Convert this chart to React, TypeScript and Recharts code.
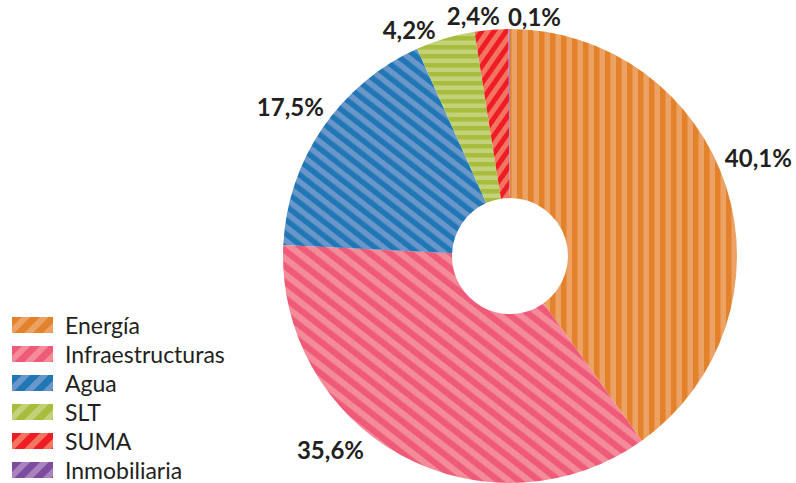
import React from 'react';
import { PieChart, Pie, Cell, Legend } from 'recharts';

const categories = ['Energía', 'Infraestructuras', 'Agua', 'SLT', 'SUMA', 'Inmobiliaria'];
const shares = [40.1, 35.6, 17.5, 4.2, 2.4, 0.1];
const valueLabels = ['40,1%', '35,6%', '17,5%', '4,2%', '2,4%', '0,1%'];

const darkColors = ['#E3822B', '#EF5A78', '#2177B5', '#A7BD3C', '#EE1D25', '#7D4C9E'];
const lightColors = ['#EBA264', '#F48B98', '#6A97CA', '#C3D27A', '#F37560', '#A983C0'];
// stripe geometry per slice: [period, rotation]
const stripePeriod = [11, 12.5, 11, 9, 10, 6];
const stripeRotation = [0, -52, -52, 90, 35, 0];

// label placement tweaks (degrees / px beyond outer radius)
const labelAngleShift = [3.8, -14.2, 0, 7.4, 4, -6];
const labelRadiusExtra = [40, 37, 39, 21, 16, 14];

const data = categories.map((name, i) => ({ name, value: shares[i], label: valueLabels[i] }));

const RAD = Math.PI / 180;

const renderLabel = (props: any) => {
  const { cx, cy, midAngle, outerRadius, index } = props;
  const a = (midAngle + labelAngleShift[index]) * RAD;
  const r = outerRadius + labelRadiusExtra[index];
  const x = cx + r * Math.cos(-a);
  const y = cy + r * Math.sin(-a);
  return (
    <text
      x={x}
      y={y}
      textAnchor="middle"
      dominantBaseline="central"
      fill="#231F20"
      style={{ fontFamily: 'Lato', fontWeight: 700, fontSize: 24 }}
    >
      {valueLabels[index]}
    </text>
  );
};

const renderLegend = () => (
  <div style={{ fontFamily: 'Lato', fontSize: 23, color: '#231F20' }}>
    {categories.map((name, i) => (
      <div key={name} style={{ display: 'flex', alignItems: 'center', height: 29 }}>
        <svg width={41} height={16} style={{ display: 'block' }}>
          <rect width={41} height={16} fill={`url(#lg-${i})`} />
        </svg>
        <span style={{ marginLeft: 12, lineHeight: '20px' }}>{name}</span>
      </div>
    ))}
  </div>
);

export default function App() {
  return (
    <div style={{ position: 'absolute', left: 0, top: 0, width: 796, height: 483, background: '#fff', overflow: 'hidden' }}>
      <svg width={0} height={0} style={{ position: 'absolute' }}>
        <defs>
          {categories.map((_, i) => (
            <pattern
              key={`p-${i}`}
              id={`pt-${i}`}
              patternUnits="userSpaceOnUse"
              width={stripePeriod[i]}
              height={stripePeriod[i]}
              patternTransform={`rotate(${stripeRotation[i]})`}
            >
              <rect width={stripePeriod[i]} height={stripePeriod[i]} fill={lightColors[i]} />
              <rect width={stripePeriod[i] / 2} height={stripePeriod[i]} fill={darkColors[i]} />
            </pattern>
          ))}
          {categories.map((_, i) => (
            <pattern
              key={`l-${i}`}
              id={`lg-${i}`}
              patternUnits="userSpaceOnUse"
              width={13}
              height={13}
              patternTransform="rotate(45)"
            >
              <rect width={13} height={13} fill={lightColors[i]} />
              <rect width={7} height={13} fill={darkColors[i]} />
            </pattern>
          ))}
        </defs>
      </svg>
      <PieChart
        width={796}
        height={483}
        margin={{ top: 0, right: 0, bottom: 0, left: 0 }}
        style={{ position: 'absolute', left: 0, top: 0 }}
      >
        <Pie
          data={data}
          dataKey="value"
          nameKey="name"
          cx={510}
          cy={256}
          outerRadius={227}
          innerRadius={58}
          startAngle={90}
          endAngle={-270}
          stroke="none"
          label={renderLabel}
          labelLine={false}
          isAnimationActive={false}
        >
          {data.map((d, i) => (
            <Cell key={d.name} fill={`url(#pt-${i})`} stroke="none" />
          ))}
        </Pie>
        <Legend
          content={renderLegend}
          layout="vertical"
          wrapperStyle={{ position: 'absolute', left: 12, top: 310, width: 240, bottom: 'auto', right: 'auto' }}
        />
      </PieChart>
    </div>
  );
}
